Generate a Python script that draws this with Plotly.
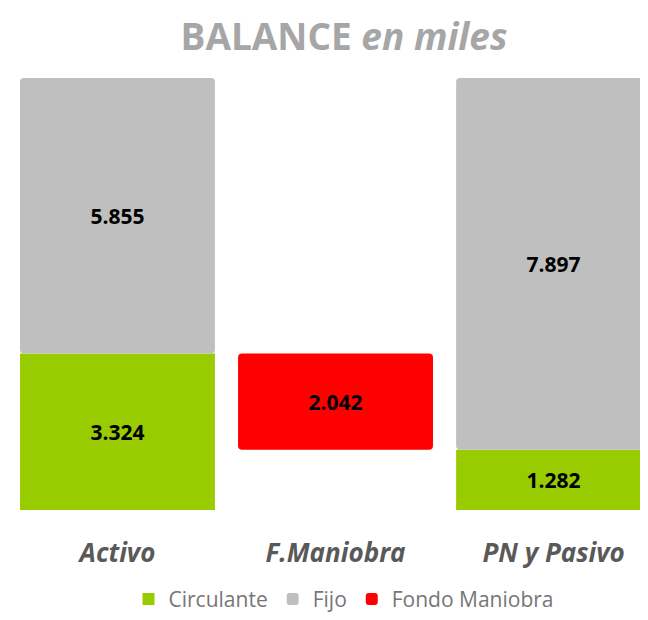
import plotly.graph_objects as go

categories = ['Activo', 'F.Maniobra', 'PN y Pasivo']
circulante = [3324, None, 1282]
fijo = [5855, None, 7897]
fondo_maniobra = [None, 2042, None]

GREEN = '#99cc00'
GREY = '#bfbfbf'
RED = '#ff0000'
FONT = 'Open Sans, sans-serif'

# bases: grey sits on the green part, red spans between both green parts
fijo_base = [c if c is not None else 0 for c in circulante]
fm_base = [min(c for c in circulante if c is not None)] * len(categories)
total = max(c + f for c, f in zip(circulante, fijo) if c is not None)

label_font = {'color': '#000000', 'size': 21, 'family': FONT, 'weight': 'bold'}

fig = go.Figure()

fig.add_trace(go.Bar(
    x=categories, y=circulante, base=0, name='Circulante',
    marker_color=GREEN, marker_line_width=0,
    texttemplate='%{y:,.0f}', textposition='inside', insidetextanchor='middle',
    textfont=label_font,
))
fig.add_trace(go.Bar(
    x=categories, y=fijo, base=fijo_base, name='Fijo',
    marker_color=GREY, marker_line_width=0, marker_cornerradius=4,
    texttemplate='%{y:,.0f}', textposition='inside', insidetextanchor='middle',
    textfont=label_font,
))
fig.add_trace(go.Bar(
    x=categories, y=fondo_maniobra, base=fm_base, name='Fondo Maniobra',
    marker_color=RED, marker_line_width=0, marker_cornerradius=4,
    texttemplate='%{y:,.0f}', textposition='inside', insidetextanchor='middle',
    textfont=label_font,
))

fig.update_layout(
    width=640, height=612,
    barmode='overlay', bargap=0.106,
    separators=',.',
    paper_bgcolor='white', plot_bgcolor='white',
    font={'family': FONT, 'color': '#595959'},
    title={
        'text': 'BALANCE <i>en miles</i>',
        'font': {'size': 37, 'color': '#a6a6a6', 'family': FONT, 'weight': 'bold'},
        'x': 0.525, 'xanchor': 'center', 'y': 0.952, 'yanchor': 'middle',
    },
    xaxis={
        'range': [-0.502, 2.433], 'showgrid': False, 'zeroline': False,
        'showline': False, 'ticks': '', 'ticklabelstandoff': 25,
        'tickfont': {'size': 26, 'color': '#595959', 'family': FONT,
                     'weight': 'bold', 'style': 'italic'},
    },
    yaxis={
        'range': [0, total], 'visible': False, 'showgrid': False, 'zeroline': False,
    },
    legend={
        'orientation': 'h', 'x': 0.525, 'xanchor': 'center',
        'y': -0.207, 'yanchor': 'middle',
        'font': {'size': 21, 'color': '#767676', 'family': FONT},
        'itemwidth': 30, 'tracegroupgap': 0,
    },
    showlegend=True,
    margin={'l': 0, 'r': 0, 't': 70, 'b': 105},
)

fig.write_html('out.html')
